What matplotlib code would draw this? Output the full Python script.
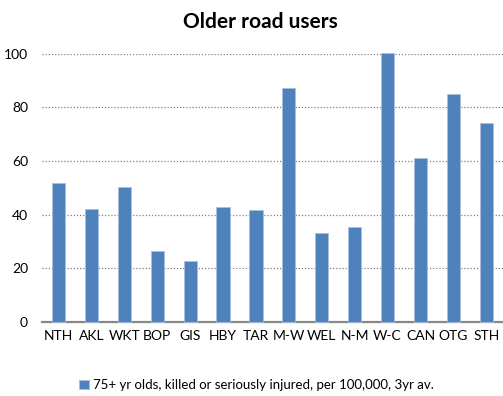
import numpy as np
import matplotlib.pyplot as plt

plt.rcParams['font.family'] = ['Lato', 'DejaVu Sans']

regions = ["NTH", "AKL", "WKT", "BOP", "GIS", "HBY", "TAR", "M-W",
           "WEL", "N-M", "W-C", "CAN", "OTG", "STH"]
rates = [52.0, 42.0, 50.5, 26.6, 22.6, 42.9, 41.8, 87.4,
         33.3, 35.3, 100.3, 61.3, 85.0, 74.1]

fig = plt.figure(figsize=(5.03, 3.96), dpi=100)
ax = fig.add_axes([0.0835, 0.187, 0.916, 0.677])

x = np.arange(len(regions))
ax.bar(x, rates, width=0.4, color="#4F81BD", edgecolor="#A7C0DE",
       linewidth=0.6, clip_on=False, zorder=3,
       label="75+ yr olds, killed or seriously injured, per 100,000, 3yr av.")

ax.set_xlim(-0.5, len(regions) - 0.5)
ax.set_ylim(0, 100)
ax.set_yticks(range(0, 101, 20))
ax.set_xticks(x)
ax.set_xticklabels(regions)
ax.tick_params(length=0, labelsize=10, pad=6)
ax.tick_params(axis="y", pad=10)

ax.yaxis.grid(True, linestyle=(0, (1, 1.5)), color="#808080", linewidth=0.9, zorder=0)
for side in ("left", "right", "top"):
    ax.spines[side].set_visible(False)
ax.spines["bottom"].set_color("#888888")
ax.spines["bottom"].set_linewidth(1.6)

fig.text(0.517, 0.945, "Older road users", ha="center", va="center",
         fontsize=15, fontweight="bold")
fig.legend(loc="center", bbox_to_anchor=(0.51, 0.028), frameon=False,
           fontsize=9.5, handlelength=0.7, handleheight=0.7, handletextpad=0.3)

fig.savefig("out.png", dpi=100)
